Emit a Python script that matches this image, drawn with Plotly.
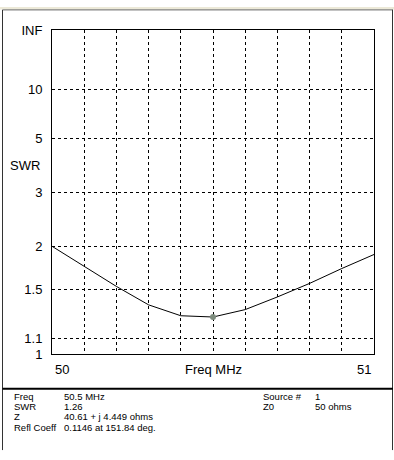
import plotly.graph_objects as go

# ---- data ----
freq_mhz = [50.0, 50.1, 50.2, 50.3, 50.4, 50.5, 50.6, 50.7, 50.8, 50.9, 51.0]
swr = [2.00, 1.75, 1.53, 1.36, 1.27, 1.26, 1.32, 1.43, 1.56, 1.72, 1.89]
marker_freq = [50.5]
marker_swr = [1.26]
swr_ticks = [1, 1.1, 1.5, 2, 3, 5, 10, None]  # None = infinity
swr_tick_labels = ["1", "1.1", "1.5", "2", "3", "5", "10", "INF"]
x_labels = ["50", "Freq MHz", "51"]
info_left_keys = ["Freq", "SWR", "Z", "Refl Coeff"]
info_left_vals = ["50.5 MHz", "1.26", "40.61 + j 4.449 ohms", "0.1146 at 151.84 deg."]
info_right_keys = ["Source #", "Z0"]
info_right_vals = ["1", "50 ohms"]


def rho(s):
    # reflection coefficient magnitude: scale used by the SWR axis
    if s is None:
        return 1.0
    return (s - 1.0) / (s + 1.0)


W, H = 394, 460
L, R, T, B = 52, 374, 24, 359


def fx(x):
    return x / W


def fy(y):
    return 1 - y / H


FONT = "Liberation Sans, Arial, sans-serif"

fig = go.Figure()
fig.add_trace(go.Scatter(
    x=freq_mhz, y=[rho(s) for s in swr], mode="lines",
    line=dict(color="black", width=1), hoverinfo="skip", showlegend=False))
fig.add_trace(go.Scatter(
    x=marker_freq, y=[rho(s) for s in marker_swr], mode="markers",
    marker=dict(color="#7d8c7d", size=6), hoverinfo="skip", showlegend=False))

fig.update_xaxes(
    domain=[fx(L), fx(R)],
    range=[freq_mhz[0], freq_mhz[-1]], tick0=50, dtick=0.1,
    showticklabels=False, ticks="",
    showgrid=True, gridcolor="black", gridwidth=1, griddash="3px,3px",
    showline=True, linecolor="black", linewidth=1, mirror=True, zeroline=False)
fig.update_yaxes(
    domain=[fy(B), fy(T)],
    range=[0, 1], tickmode="array",
    tickvals=[rho(s) for s in swr_ticks], ticktext=swr_tick_labels,
    tickfont=dict(family=FONT, size=13, color="black"),
    ticks="", ticklabelstandoff=6,
    showgrid=True, gridcolor="black", gridwidth=1, griddash="3px,3px",
    showline=True, linecolor="black", linewidth=1, mirror=True, zeroline=False)

ann = []
ann.append(dict(x=fx(53), y=fy(375), text=x_labels[0], xanchor="left"))
ann.append(dict(x=fx(213), y=fy(375), text=x_labels[1], xanchor="center"))
ann.append(dict(x=fx(373), y=fy(375), text=x_labels[2], xanchor="right"))
ann.append(dict(x=fx(8), y=fy(164), text="SWR", xanchor="left"))
for a in ann:
    a.update(xref="paper", yref="paper", yanchor="middle", showarrow=False,
             font=dict(family=FONT, size=13, color="black"))

rows_y = [403, 413.4, 423.8, 434.2]
info = []
for i, (k, v) in enumerate(zip(info_left_keys, info_left_vals)):
    info += [(14, rows_y[i], k), (64, rows_y[i], v)]
for i, (k, v) in enumerate(zip(info_right_keys, info_right_vals)):
    info += [(263, rows_y[i], k), (315, rows_y[i], v)]
for xx, yy, t in info:
    ann.append(dict(x=fx(xx), y=fy(yy), text=t, xref="paper", yref="paper",
                    xanchor="left", yanchor="middle", showarrow=False,
                    borderpad=0, borderwidth=0,
                    font=dict(family=FONT, size=9.5, color="black")))

shapes = [
    dict(type="rect", xref="paper", yref="paper", x0=0, x1=1, y0=fy(0), y1=fy(2.5),
         fillcolor="#ece9d8", line=dict(width=0)),
    dict(type="line", xref="paper", yref="paper", x0=fx(2.5), x1=fx(393), y0=fy(3), y1=fy(3),
         line=dict(color="#666666", width=1)),
    dict(type="line", xref="paper", yref="paper", x0=fx(2.5), x1=fx(2.5), y0=fy(3), y1=fy(458),
         line=dict(color="#333333", width=1)),
    dict(type="line", xref="paper", yref="paper", x0=fx(392.5), x1=fx(392.5), y0=fy(3), y1=fy(458),
         line=dict(color="#333333", width=1)),
    dict(type="line", xref="paper", yref="paper", x0=fx(2.5), x1=fx(393), y0=fy(394.5), y1=fy(394.5),
         line=dict(color="black", width=2)),
]

fig.update_layout(
    width=W, height=H, autosize=False,
    margin=dict(l=0, r=0, t=0, b=0, pad=0),
    plot_bgcolor="white", paper_bgcolor="white",
    annotations=ann, shapes=shapes, showlegend=False,
    font=dict(family=FONT, color="black"))

fig.write_html("out.html", config={"displayModeBar": False},
               post_script="document.body.style.margin='0';document.body.style.overflow='hidden';")
